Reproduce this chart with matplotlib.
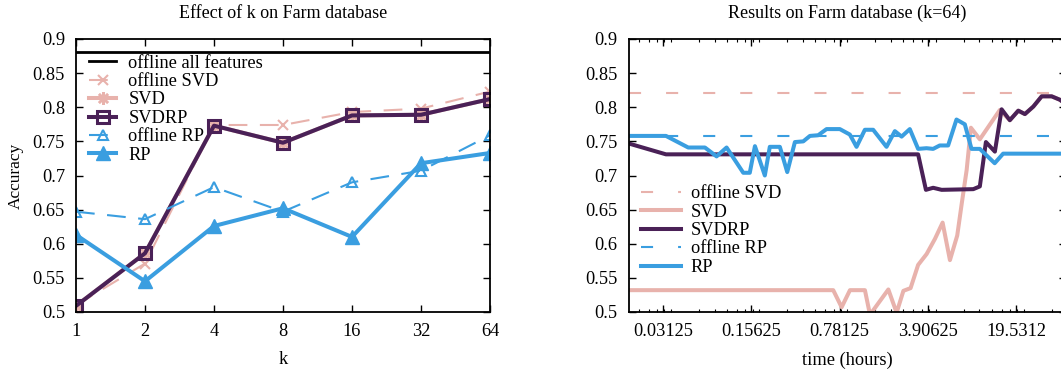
import numpy as np
import matplotlib
matplotlib.use('Agg')
import matplotlib.pyplot as plt
from matplotlib.ticker import LogLocator, FixedLocator, NullFormatter

plt.rcParams['font.family'] = 'Liberation Serif'
plt.rcParams['font.size'] = 13.2

# colours
pink = '#e8b2ac'
purple = '#4a2157'
blue = '#3a9ee0'

# ---- left chart: effect of k ----
k = [1, 2, 4, 8, 16, 32, 64]
offline_all = 0.881
offline_svd_k = [0.510, 0.571, 0.774, 0.774, 0.793, 0.798, 0.823]
svd_k = [0.509, 0.586, 0.773, 0.748, 0.788, 0.789, 0.812]
svdrp_k = [0.509, 0.586, 0.773, 0.748, 0.788, 0.789, 0.812]
offline_rp_k = [0.647, 0.636, 0.683, 0.647, 0.690, 0.707, 0.759]
rp_k = [0.613, 0.545, 0.626, 0.652, 0.610, 0.718, 0.733]

# ---- right chart: accuracy over time (k=64) ----
offline_svd_t = 0.821
offline_rp_t = 0.758

rp_time = [1/60, 0.0330, 0.0495, 0.0671, 0.0830, 0.0996, 0.135, 0.152, 0.167, 0.200,
           0.219, 0.263, 0.301, 0.346, 0.403, 0.455, 0.529, 0.616, 0.785, 0.942,
           1.064, 1.239, 1.441, 1.838, 2.14, 2.42, 2.81, 3.27, 3.81, 4.30,
           4.85, 5.65, 6.58, 7.66, 8.65, 10.07, 13.2, 15.4, 48]
rp_acc = [0.758, 0.758, 0.741, 0.741, 0.728, 0.741, 0.704, 0.704, 0.743, 0.700,
          0.742, 0.742, 0.705, 0.749, 0.750, 0.758, 0.759, 0.768, 0.768, 0.760,
          0.742, 0.767, 0.767, 0.742, 0.765, 0.757, 0.768, 0.739, 0.740, 0.739,
          0.744, 0.744, 0.782, 0.775, 0.739, 0.739, 0.718, 0.732, 0.732]

svdrp_time = [1/60, 0.0330, 3.27, 3.77, 4.30, 5.02, 8.94, 10.07, 11.25, 13.25,
              14.98, 17.4, 20.3, 22.9, 26.7, 31.1, 37.3, 43.3, 48]
svdrp_acc = [0.747, 0.731, 0.731, 0.679, 0.682, 0.679, 0.680, 0.684, 0.749, 0.735,
             0.797, 0.781, 0.795, 0.790, 0.801, 0.816, 0.816, 0.811, 0.805]

svd_time = [1/60, 0.696, 0.811, 0.944, 1.24, 1.36, 1.90, 2.21, 2.50, 2.85,
            3.27, 3.82, 4.44, 5.11, 5.84, 6.67, 7.23, 7.92, 8.56, 10.07,
            14.5, 17.4, 20.3, 22.9, 26.7, 31.1, 37.3, 43.3, 48]
svd_acc = [0.532, 0.532, 0.507, 0.532, 0.532, 0.496, 0.533, 0.499, 0.531, 0.535,
           0.569, 0.585, 0.607, 0.631, 0.576, 0.612, 0.658, 0.708, 0.770, 0.753,
           0.796, 0.781, 0.795, 0.790, 0.801, 0.816, 0.816, 0.811, 0.805]

time_ticks = [0.03125, 0.15625, 0.78125, 3.90625, 19.53125]
time_labels = ['0.03125', '0.15625', '0.78125', '3.90625', '19.5312']
acc_ticks = np.arange(0.5, 0.901, 0.05)
acc_labels = ['0.5', '0.55', '0.6', '0.65', '0.7', '0.75', '0.8', '0.85', '0.9']

W, H = 1061, 372
fig = plt.figure(figsize=(W / 100, H / 100), dpi=100)
ax1 = fig.add_axes([76 / W, 1 - 312 / H, 414 / W, 273 / H])
ax2 = fig.add_axes([628.5 / W, 1 - 312 / H, 437 / W, 273 / H])

lw_thick = 2.9
lw_thin = 1.5

# left
ax1.axhline(offline_all, color='black', lw=2.0, label='offline all features')
ax1.plot(k, offline_svd_k, color=pink, lw=lw_thin, dashes=(9, 6), marker='x',
         ms=7, mew=1.5, label='offline SVD')
ax1.plot(k, svd_k, color=pink, lw=lw_thick, marker=(8, 2, 0), ms=9, mew=1.8,
         label='SVD')
ax1.plot(k, svdrp_k, color=purple, lw=lw_thick, marker='s', ms=9, mfc='none',
         mew=2.2, label='SVDRP')
ax1.plot(k, offline_rp_k, color=blue, lw=lw_thin, dashes=(9, 6), marker='^',
         ms=7, mfc='none', mew=1.5, label='offline RP')
ax1.plot(k, rp_k, color=blue, lw=lw_thick, marker='^', ms=10, label='RP')

ax1.set_xscale('log', base=2)
ax1.set_xlim(1, 64)
ax1.xaxis.set_major_locator(FixedLocator(k))
ax1.set_xticklabels([str(v) for v in k])
ax1.xaxis.set_minor_locator(FixedLocator([]))
ax1.set_ylim(0.5, 0.9)
ax1.set_yticks(acc_ticks)
ax1.set_yticklabels(acc_labels)
ax1.set_xlabel('k', labelpad=8)
ax1.set_ylabel('Accuracy', labelpad=6, fontsize=12.5)
ax1.set_title('Effect of k on Farm database', fontsize=13, pad=15)
ax1.legend(loc='upper left', bbox_to_anchor=(0.0, 0.99), frameon=False,
           handlelength=1.5, handletextpad=0.65, labelspacing=0.08,
           borderaxespad=0.3, numpoints=1)

# right
ax2.axhline(offline_svd_t, color=pink, lw=lw_thin, dashes=(5.8, 12), label='offline SVD')
ax2.plot(svd_time, svd_acc, color=pink, lw=lw_thick, label='SVD')
ax2.plot(svdrp_time, svdrp_acc, color=purple, lw=lw_thick, label='SVDRP')
ax2.axhline(offline_rp_t, color=blue, lw=lw_thin, dashes=(5.8, 12), label='offline RP')
ax2.plot(rp_time, rp_acc, color=blue, lw=lw_thick, label='RP')

ax2.set_xscale('log', base=5)
ax2.set_xlim(1 / 60, 48)
ax2.xaxis.set_major_locator(FixedLocator(time_ticks))
ax2.set_xticklabels(time_labels)
ax2.xaxis.set_minor_locator(LogLocator(base=5, subs=[1.5, 2, 2.5, 3, 3.5, 4, 4.5], numticks=50))
ax2.xaxis.set_minor_formatter(NullFormatter())
ax2.set_ylim(0.5, 0.9)
ax2.set_yticks(acc_ticks)
ax2.set_yticklabels(acc_labels)
ax2.set_xlabel('time (hours)', labelpad=8)
ax2.set_title('Results on Farm database (k=64)', fontsize=13, pad=15)
ax2.legend(loc='lower left', bbox_to_anchor=(0.0, 0.085), frameon=False,
           handlelength=2.15, handletextpad=0.55, labelspacing=0.08,
           borderaxespad=0.3)

for ax in (ax1, ax2):
    for s in ax.spines.values():
        s.set_linewidth(1.3)
    ax.tick_params(which='major', direction='in', length=5, width=1.0,
                   top=True, right=True, pad=8)
    ax.tick_params(which='minor', direction='in', length=2.5, width=0.8,
                   top=True, right=True)

fig.savefig('out.png', dpi=100)
